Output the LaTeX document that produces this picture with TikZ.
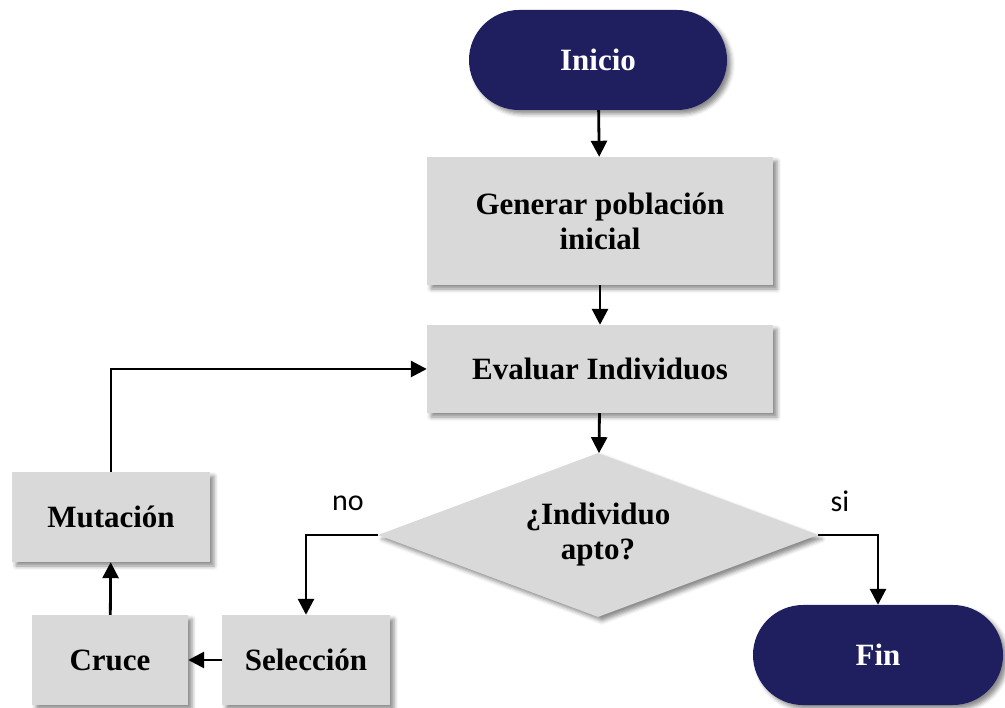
\documentclass[tikz,border=0pt]{standalone}
\usepackage{fontspec}
\setmainfont{Liberation Serif}
\newfontfamily\labelfont{Carlito}
\usetikzlibrary{shapes.geometric,shadows.blur,arrows.meta}

\definecolor{navy}{RGB}{31,31,96}
\definecolor{boxgray}{RGB}{217,217,217}

\tikzset{
  softshadow/.style={blur shadow={shadow xshift=4pt,shadow yshift=-4pt,shadow blur radius=4pt,shadow opacity=45}},
  terminal/.style={fill=navy,text=white,rounded corners=50pt,minimum width=#1,minimum height=100pt,inner sep=0pt,softshadow},
  process/.style={fill=boxgray,align=center,inner sep=0pt,softshadow},
  decision/.style={diamond,aspect=2.68,fill=boxgray,align=center,inner sep=0pt,minimum width=440pt,minimum height=164pt,softshadow},
  link/.style={line width=2.8pt,-{Triangle[length=16pt,width=16pt]}},
  edgelabel/.style={font=\labelfont\fontsize{30}{34}\selectfont}
}

\begin{document}
\begin{tikzpicture}[x=1pt,y=-1pt,font=\bfseries\fontsize{31}{35}\selectfont]
  \useasboundingbox (0,0) rectangle (1005,708);

  % nodes
  \node[terminal=258pt] (inicio) at (598,60) {Inicio};
  \node[process,minimum width=346pt,minimum height=128pt] (gen) at (600,221) {Generar población\\inicial};
  \node[process,minimum width=346pt,minimum height=88pt] (eval) at (600,369) {Evaluar Individuos};
  \node[decision] (apto) at (598,535) {¿Individuo\\apto?};
  \node[process,minimum width=168pt,minimum height=90pt] (sel) at (306,660) {Selección};
  \node[process,minimum width=156pt,minimum height=90pt] (cruce) at (110,660) {Cruce};
  \node[process,minimum width=198pt,minimum height=90pt] (mut) at (111,517) {Mutación};
  \node[terminal=250pt] (fin) at (878,655) {Fin};

  % connectors
  \draw[link] (inicio) -- (gen);
  \draw[link] (gen) -- (eval);
  \draw[link] (eval) -- (apto);
  \draw[link] (apto.west) -| (sel.north);
  \draw[link] (apto.east) -| (fin.north);
  \draw[link] (sel) -- (cruce);
  \draw[link] (cruce) -- (mut);
  \draw[link] (mut.north) |- (eval.west);

  % labels
  \node[edgelabel] (nolabel) at (348,503) {no};
  \node[edgelabel] (silabel) at (840,501) {si};
\end{tikzpicture}
\end{document}
